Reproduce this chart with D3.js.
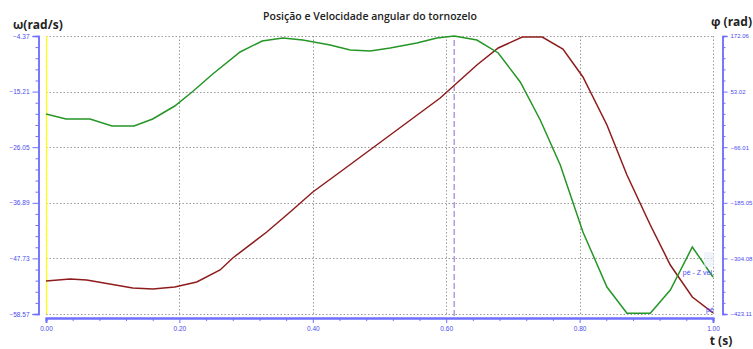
<!DOCTYPE html>
<html><head><meta charset="utf-8">
<script src="https://cdn.jsdelivr.net/npm/d3@7"></script>
<style>body{margin:0;background:#fff;} svg{display:block;}</style>
</head><body>
<script>
const title = "Posição e Velocidade angular do tornozelo";
const leftLabel = "ω(rad/s)";
const rightLabel = "φ (rad)";
const xLabel = "t (s)";
const legendLabels = ["pé - Z vel", "pé - Z pos"];

const leftTicks = [-4.37, -15.21, -26.05, -36.89, -47.73, -58.57];
const rightTicks = [172.06, 53.02, -66.01, -185.05, -304.08, -423.11];
const xTicks = [0, 0.2, 0.4, 0.6, 0.8, 1.0];
const cursorT = 0.612;

// green: angular velocity (left axis)
const velT = [0.000,0.030,0.066,0.099,0.132,0.160,0.193,0.219,0.250,0.291,0.324,0.355,0.385,0.426,0.456,0.486,0.516,0.556,0.586,0.612,0.646,0.678,0.711,0.741,0.771,0.805,0.841,0.871,0.906,0.936,0.969,1.000];
const velV = [-19.58,-20.55,-20.55,-21.92,-21.92,-20.55,-18.02,-15.29,-11.78,-7.49,-5.34,-4.76,-5.15,-6.12,-7.10,-7.29,-6.71,-5.73,-4.76,-4.37,-5.15,-7.68,-13.34,-20.75,-29.52,-42.58,-53.31,-58.40,-58.40,-53.89,-45.51,-51.36];

// red: angular position (right axis)
const posT = [0.000,0.036,0.061,0.130,0.160,0.193,0.226,0.261,0.280,0.331,0.366,0.400,0.445,0.516,0.591,0.621,0.646,0.678,0.714,0.744,0.775,0.805,0.841,0.871,0.906,0.936,0.969,1.000];
const posV = [-352.5,-348.2,-350.3,-367.5,-369.6,-365.3,-354.6,-328.9,-303.2,-247.6,-204.7,-161.9,-114.8,-39.9,39.3,77.9,110.0,146.4,169.9,169.9,144.2,84.3,-18.5,-125.5,-232.6,-318.2,-386.7,-420.9];

const W = 753, H = 349;
const L = 46, R = 713, T = 36, B = 314;
const axisColor = "#7070ff", labelColor = "#4a4af0";

const svg = d3.select("body").append("svg").attr("width", W).attr("height", H);

const x = d3.scaleLinear().domain([0, 1]).range([L, R]);
const yL = d3.scaleLinear().domain([leftTicks[5], leftTicks[0]]).range([B, T]);
const yR = d3.scaleLinear().domain([rightTicks[5], rightTicks[0]]).range([B, T]);

svg.append("defs").append("clipPath").attr("id","plot")
  .append("rect").attr("x", L).attr("y", T - 2).attr("width", R - L + 1).attr("height", B - T + 4);

// grid
const grid = svg.append("g").attr("stroke", "#9a9a9a").attr("stroke-width", 1).attr("stroke-dasharray", "1.5,2");
grid.selectAll(".h").data(leftTicks).join("line")
  .attr("x1", L).attr("x2", R).attr("y1", d => Math.round(yL(d)) + 0.5).attr("y2", d => Math.round(yL(d)) + 0.5);
grid.selectAll(".v").data(xTicks.slice(1)).join("line")
  .attr("x1", d => Math.round(x(d)) + 0.5).attr("x2", d => Math.round(x(d)) + 0.5).attr("y1", T).attr("y2", B);

// yellow start line
svg.append("line").attr("x1", x(0) + 0.5).attr("x2", x(0) + 0.5).attr("y1", T).attr("y2", B)
  .attr("stroke", "#ffff00").attr("stroke-width", 1.2);

// cursor
svg.append("line").attr("x1", x(cursorT)).attr("x2", x(cursorT)).attr("y1", T + 4).attr("y2", B + 4)
  .attr("stroke", "#a98bd8").attr("stroke-width", 1.3).attr("stroke-dasharray", "6,3");

// axes
function minorTicks(ticks, n) {
  const out = [];
  for (let i = 0; i < ticks.length - 1; i++) {
    const a = ticks[i], b = ticks[i + 1];
    for (let k = 1; k < n; k++) out.push(a + (b - a) * k / n);
  }
  return out;
}

const fontAxis = "'Liberation Sans', Arial, sans-serif";

// left axis
const la = svg.append("g").attr("transform", `translate(38.5,0)`);
la.call(d3.axisLeft(yL).tickValues(leftTicks).tickSize(6).tickPadding(3).tickFormat(d3.format(".2f")));
la.append("g").call(d3.axisLeft(yL).tickValues(minorTicks(leftTicks, 5)).tickSize(3).tickFormat(""));
la.selectAll("path").attr("stroke", axisColor).attr("stroke-width", 1.5);
la.selectAll("line").attr("stroke", axisColor).attr("stroke-width", 1);
la.selectAll("text").attr("fill", labelColor).style("font-family", fontAxis).style("font-size", "6.5px");

// right axis
const ra = svg.append("g").attr("transform", `translate(722.5,0)`);
ra.call(d3.axisRight(yR).tickValues(rightTicks).tickSize(5).tickPadding(3).tickFormat(d3.format(".2f")));
ra.append("g").call(d3.axisRight(yR).tickValues(minorTicks(rightTicks, 5)).tickSize(3).tickFormat(""));
ra.selectAll("path").attr("stroke", axisColor).attr("stroke-width", 1.5);
ra.selectAll("line").attr("stroke", axisColor).attr("stroke-width", 1);
ra.selectAll("text").attr("fill", labelColor).style("font-family", fontAxis).style("font-size", "6px");

// bottom axis
const ba = svg.append("g").attr("transform", `translate(0,318)`);
ba.call(d3.axisBottom(x).tickValues(xTicks).tickSize(5).tickPadding(3).tickFormat(d3.format(".2f")));
ba.append("g").call(d3.axisBottom(x).tickValues(minorTicks(xTicks, 5)).tickSize(3).tickFormat(""));
ba.selectAll("path").attr("stroke", axisColor).attr("stroke-width", 2);
ba.selectAll("line").attr("stroke", axisColor).attr("stroke-width", 1);
ba.selectAll("text").attr("fill", labelColor).style("font-family", fontAxis).style("font-size", "6.5px");

// series
const plot = svg.append("g").attr("clip-path", "url(#plot)");
const velData = velT.map((t, i) => [t, velV[i]]);
const posData = posT.map((t, i) => [t, posV[i]]);
plot.append("path").datum(posData)
  .attr("d", d3.line().x(d => x(d[0])).y(d => yR(d[1])))
  .attr("fill", "none").attr("stroke", "#8e1c1c").attr("stroke-width", 1.5);
plot.append("path").datum(velData)
  .attr("d", d3.line().x(d => x(d[0])).y(d => yL(d[1])))
  .attr("fill", "none").attr("stroke", "#259625").attr("stroke-width", 1.5);

// legend labels (clipped at plot edge)
plot.append("rect").attr("x", 704).attr("y", 252).attr("width", 12).attr("height", 15).attr("fill", "#e8ecf6").attr("opacity", 0.6);
const lastVel = velData[velData.length - 1], lastPos = posData[posData.length - 1];
plot.append("text").attr("x", x(lastVel[0]) - 1).attr("y", yL(lastVel[1]) - 2)
  .attr("text-anchor", "end").attr("fill", "#4b4bf0")
  .style("font-family", fontAxis).style("font-size", "7px").text(legendLabels[0]);
plot.append("text").attr("x", x(lastPos[0]) - 1).attr("y", yR(lastPos[1]) - 1)
  .attr("text-anchor", "start").attr("dx", -6).attr("fill", "#4b4bf0")
  .style("font-family", fontAxis).style("font-size", "7px").text(legendLabels[1]);

// titles
svg.append("text").attr("x", 370).attr("y", 20).attr("text-anchor", "middle")
  .style("font-family", "'Open Sans', sans-serif").style("font-weight", 600).style("font-size", "10.5px")
  .attr("fill", "#222").text(title);
svg.append("text").attr("x", 13).attr("y", 29)
  .style("font-family", "'Open Sans', sans-serif").style("font-weight", 700).style("font-size", "12px")
  .attr("fill", "#222").text(leftLabel);
svg.append("text").attr("x", 752).attr("y", 26).attr("text-anchor", "end")
  .style("font-family", "'Open Sans', sans-serif").style("font-weight", 700).style("font-size", "12px")
  .attr("fill", "#222").text(rightLabel);
svg.append("text").attr("x", 721).attr("y", 345).attr("text-anchor", "middle")
  .style("font-family", "'Open Sans', sans-serif").style("font-weight", 700).style("font-size", "12px")
  .attr("fill", "#222").text(xLabel);
</script>
</body></html>
